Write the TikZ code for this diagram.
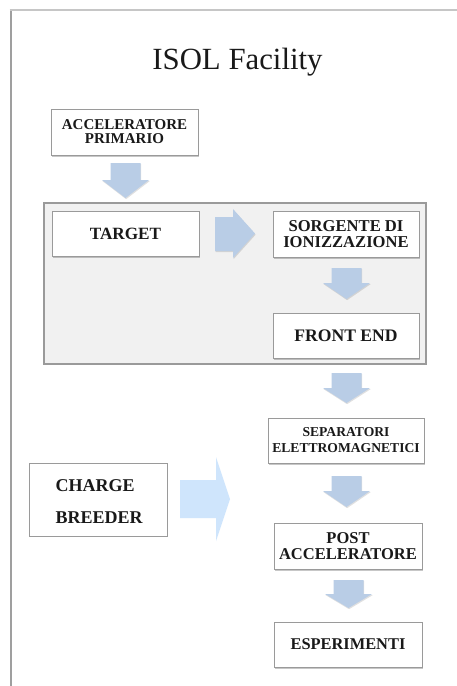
\documentclass[tikz,border=0pt]{standalone}
\usepackage{fontspec}
\setmainfont{Liberation Serif}
\usetikzlibrary{shadows}
\definecolor{arrowblue}{HTML}{B9CDE6}
\definecolor{bigblue}{HTML}{CFE5FC}
\definecolor{boxline}{HTML}{9A9A9A}
\definecolor{panelfill}{HTML}{F1F1F1}
\tikzset{
  stepbox/.style={draw=boxline, line width=0.8pt, fill=white, align=center,
    inner sep=1pt, font=\bfseries, text=black!90,
    drop shadow={shadow xshift=1pt, shadow yshift=-2pt, fill=black, opacity=0.22}},
  blockarrow/.style={fill=arrowblue, draw=none,
    drop shadow={shadow xshift=0.6pt, shadow yshift=-1.2pt, fill=black, opacity=0.12}},
}
\newcommand{\blkdown}[4]{% center x, top y, head start y, tip y
  \fill[blockarrow] (#1-15,#2) -- (#1+15,#2) -- (#1+15,#3) -- (#1+23.5,#3)
    -- (#1,#4) -- (#1-23.5,#3) -- (#1-15,#3) -- cycle;}
\begin{document}
\begin{tikzpicture}[x=1pt,y=-1pt]
\useasboundingbox (0,0) rectangle (457,686);
\fill[white] (0,0) rectangle (457,686);
% page border
\draw[color=gray!75, line width=2.6pt] (10.8,9.5) -- (10.8,686);
\draw[color=gray!45, line width=1.4pt] (9.5,10) -- (457,10);
% title
\node[font=\fontsize{30.8}{32}\selectfont, anchor=base, text=black!90] (title) at (237.5,69) {ISOL Facility};
% panel
\draw[draw=boxline, line width=1.1pt, fill=panelfill] (44,203) rectangle (426,364);
% boxes
\node[stepbox, minimum width=147pt, minimum height=46pt,
  font=\bfseries\fontsize{15}{14}\selectfont] (acc) at (124.5,132)
  {ACCELERATORE\\PRIMARIO};
\node[stepbox, minimum width=147pt, minimum height=45pt,
  font=\bfseries\fontsize{17.2}{18}\selectfont] (target) at (125.5,233.5) {TARGET};
\node[stepbox, minimum width=146pt, minimum height=46pt,
  font=\bfseries\fontsize{16.6}{16}\selectfont] (sorg) at (346,234)
  {SORGENTE DI\\IONIZZAZIONE};
\node[stepbox, minimum width=146pt, minimum height=45pt,
  font=\bfseries\fontsize{17.6}{18}\selectfont] (front) at (346,335.5) {FRONT END};
\node[stepbox, minimum width=156pt, minimum height=45pt,
  font=\bfseries\fontsize{13.6}{16}\selectfont] (sep) at (346,440.5)
  {SEPARATORI\\ELETTROMAGNETICI};
\node[stepbox, minimum width=148pt, minimum height=46pt,
  font=\bfseries\fontsize{16.5}{16}\selectfont] (post) at (348,546)
  {POST\\ACCELERATORE};
\node[stepbox, minimum width=148pt, minimum height=45pt,
  font=\bfseries\fontsize{16.4}{18}\selectfont] (esp) at (348,644.5) {ESPERIMENTI};
% charge breeder
\node[draw=boxline, line width=0.9pt, fill=white, minimum width=138pt, minimum height=73pt]
  (cb) at (98,499.5) {};
\node[anchor=base west, text=black!90, font=\bfseries\fontsize{18}{20}\selectfont] (cb1) at (52,491) {CHARGE};
\node[anchor=base west, text=black!90, font=\bfseries\fontsize{18}{20}\selectfont] (cb2) at (52,523) {BREEDER};
% block arrows
\blkdown{125.5}{163}{180}{198}
\fill[blockarrow] (215,217) -- (233,217) -- (233,209) -- (255,233.5)
  -- (233,258) -- (233,251) -- (215,251) -- cycle;
\blkdown{346.5}{268}{283}{299}
\blkdown{346.5}{373}{388}{403}
\blkdown{346.5}{476}{491}{507}
\blkdown{348.5}{580}{594}{608}
% big arrow
\fill[bigblue] (180,480) -- (216,480) -- (216,457) -- (230,499)
  -- (216,541) -- (216,518) -- (180,518) -- cycle;
\end{tikzpicture}
\end{document}
